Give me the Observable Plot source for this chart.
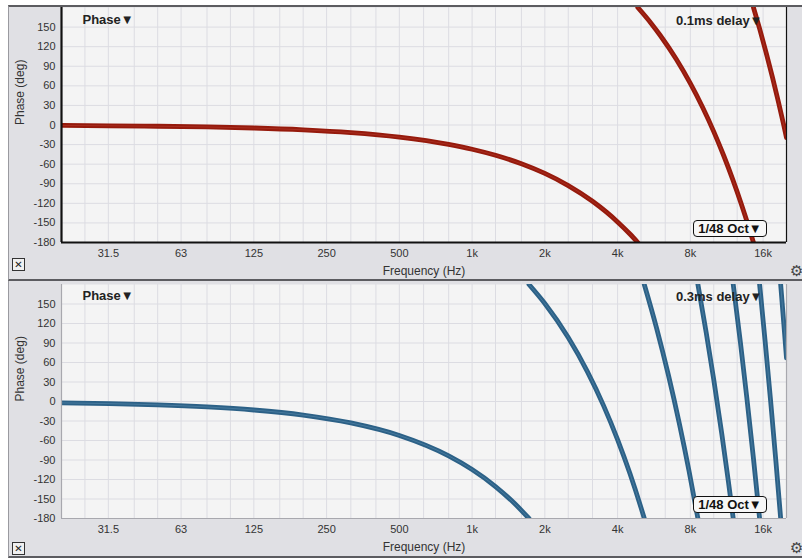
<!DOCTYPE html>
<html>
<head>
<meta charset="utf-8">
<script src="https://cdn.jsdelivr.net/npm/d3@7"></script>
<script src="https://cdn.jsdelivr.net/npm/@observablehq/plot@0.6"></script>
<style>
  body { margin:0; background:#fff; width:802px; height:559px; overflow:hidden; position:relative;
         font-family:"Liberation Sans", Arial, Helvetica, sans-serif; }
  .panel { position:absolute; left:8px; width:794px; background:#e0e0e4; box-sizing:border-box;
           border-left:1px solid #9a9aa0; }
  #bg1 { top:5px; height:276px; border-top:2px solid #5c5c60; border-bottom:2px solid #5c5c60; }
  #bg2 { top:281px; height:277px; border-bottom:2px solid #5c5c60; }
  .chart { position:absolute; left:0; }
  #c1 { top:0; }
  #c2 { top:277px; }
  .oct { position:absolute; left:693px; width:72px; height:15px; border:1.5px solid #111; border-radius:4px;
         background:#f7f7f7; font:bold 13px "Liberation Sans", Arial, sans-serif; color:#111;
         text-align:center; line-height:15px; white-space:nowrap; }
  .close { position:absolute; left:12px; width:11px; height:11px; border:1.3px solid #333; background:#f0f0f0;
           font:bold 10px "DejaVu Sans", sans-serif; color:#222; text-align:center; line-height:11px; }
  .gear { position:absolute; left:790px; font:15px "DejaVu Sans", sans-serif; color:#444; line-height:15px; }
</style>
</head>
<body>
<div class="panel" id="bg1"></div>
<div class="panel" id="bg2"></div>
<div class="chart" id="c1"></div>
<div class="chart" id="c2"></div>
<div class="oct" style="top:220px">1/48 Oct▼</div>
<div class="oct" style="top:496px">1/48 Oct▼</div>
<div class="close" style="top:258px">✕</div>
<div class="close" style="top:542px">✕</div>
<div class="gear" style="top:264px">⚙</div>
<div class="gear" style="top:541px">⚙</div>
<script>
// ---- axis values ----
const tickFreqs  = [31.25, 62.5, 125, 250, 500, 1000, 2000, 4000, 8000, 16000];
const tickLabels = ["31.5", "63", "125", "250", "500", "1k", "2k", "4k", "8k", "16k"];
const gridFreqs  = [25, 31.25, 40, 50, 62.5, 80, 100, 125, 160, 200, 250, 315, 400, 500, 630, 800,
                    1000, 1250, 1600, 2000, 2500, 3150, 4000, 5000, 6300, 8000, 10000, 12500, 16000];
const phaseTicks = [-180, -150, -120, -90, -60, -30, 0, 30, 60, 90, 120, 150];

// ---- panel 1: 0.1 ms delay (wrapped phase) ----
const p1Freq  = [20, 31.5, 50, 80, 125, 200, 315, 500, 800, 1000, 1250, 1600, 2000, 2500, 3150, 3600, 4000, 4500, 4850,
                 4850, 5500, 6000, 7000, 8000, 9000, 10000, 11000, 12000, 13000, 14000, 14600,
                 14600, 15500, 16500, 17500, 18500, 19500, 20000];
const p1Phase = [-0.7, -1.2, -1.9, -3.0, -4.6, -7.4, -11.7, -18.6, -29.7, -37.1, -46.4, -59.4, -74.2, -92.8, -116.9, -133.6, -148.5, -167.0, -180,
                 180, 156.0, 137.5, 100.6, 63.7, 26.8, -10.1, -47.1, -84.0, -120.9, -157.8, -180,
                 180, 146.8, 109.9, 72.9, 36.0, -0.9, -19.4];
const p1Seg   = [1,1,1,1,1,1,1,1,1,1,1,1,1,1,1,1,1,1,1,
                 2,2,2,2,2,2,2,2,2,2,2,2,
                 3,3,3,3,3,3,3];

// ---- panel 2: 0.3 ms delay ----
const p2Freq  = [20, 31.5, 50, 80, 125, 200, 315, 500, 800, 1000, 1250, 1500, 1720,
                 1720, 2000, 2500, 3000, 3500, 4000, 4500, 5000, 5160,
                 5160, 5800, 6500, 7200, 7900, 8600,
                 8600, 9300, 10000, 10800, 11500, 12040,
                 12040, 12900, 13700, 14600, 15480,
                 15480, 16300, 17200, 18100, 18920,
                 18920, 19500, 20000];
const p2Phase = [-2.1, -3.3, -5.2, -8.4, -13.1, -20.9, -33.0, -52.3, -83.7, -104.7, -130.8, -157.0, -180,
                 180, 150.7, 98.4, 46.0, -6.3, -58.6, -110.9, -163.3, -180,
                 180, 113.0, 39.8, -33.5, -106.7, -180,
                 180, 106.7, 33.5, -50.2, -123.5, -180,
                 180, 90.0, 6.3, -87.9, -180,
                 180, 94.2, 0.0, -94.2, -180,
                 180, 119.3, 67.0];
const p2Seg   = [1,1,1,1,1,1,1,1,1,1,1,1,1,
                 2,2,2,2,2,2,2,2,2,
                 3,3,3,3,3,3,
                 4,4,4,4,4,4,
                 5,5,5,5,5,
                 6,6,6,6,6,
                 7,7,7];

const labelMap = new Map(tickFreqs.map((f, i) => [f, tickLabels[i]]));

function panel({freq, phase, seg, color, hilite, delayText, frameColor, frameWidth, height, marginBottom, titleDy}) {
  const data = freq.map((f, i) => ({f, p: phase[i], s: seg[i]}));
  return Plot.plot({
    width: 802, height, marginLeft: 61, marginRight: 16, marginTop: 7, marginBottom,
    style: {background: "transparent", fontFamily: "'Liberation Sans', Arial, sans-serif", fontSize: "11px", color: "#333"},
    x: {type: "log", domain: [20, 20000], axis: null},
    y: {domain: [-180, 180], axis: null},
    marks: [
      Plot.frame({fill: "#f4f4f4"}),
      Plot.ruleX(gridFreqs, {stroke: "#dcdce2", strokeWidth: 1}),
      Plot.ruleY(phaseTicks, {stroke: "#dcdce2", strokeWidth: 1}),
      Plot.line(data, {x: "f", y: "p", z: "s", stroke: color, strokeWidth: 4.8, curve: "monotone-x", clip: true}),
      Plot.line(data, {x: "f", y: "p", z: "s", stroke: hilite, strokeWidth: 1, strokeOpacity: 0.4, curve: "monotone-x", clip: true}),
      Plot.ruleX([20], {stroke: frameColor, strokeWidth: frameWidth}),
      Plot.ruleX([20000], {stroke: frameColor, strokeWidth: 1.2}),
      Plot.ruleY([-180], {stroke: frameColor, strokeWidth: frameWidth}),
      Plot.text(tickFreqs, {x: d => d, text: d => labelMap.get(d), frameAnchor: "bottom", dy: 14, fontSize: 11, fill: "#333"}),
      Plot.text(phaseTicks, {y: d => d, text: d => String(d), frameAnchor: "left", dx: -6, textAnchor: "end", fontSize: 11, fill: "#333"}),
      Plot.text(["Frequency (Hz)"], {text: d => d, frameAnchor: "bottom", dy: 32, fontSize: 12, fill: "#333"}),
      Plot.text(["Phase (deg)"], {text: d => d, frameAnchor: "left", dx: -41, rotate: -90, fontSize: 12, fill: "#333"}),
      Plot.text(["Phase▼"], {text: d => d, frameAnchor: "top-left", dx: 21, dy: titleDy, textAnchor: "start", fontWeight: "bold", fontSize: 13, fill: "#222"}),
      Plot.text([delayText], {text: d => d, frameAnchor: "top-right", dx: -24, dy: titleDy + 1, textAnchor: "end", fontWeight: "bold", fontSize: 13, fill: "#222"})
    ]
  });
}

document.getElementById("c1").append(panel({
  freq: p1Freq, phase: p1Phase, seg: p1Seg, color: "#961a0c", hilite: "#c0493c",
  delayText: "0.1ms delay▼", frameColor: "#111", frameWidth: 2.2, height: 281, marginBottom: 39, titleDy: 7
}));
document.getElementById("c2").append(panel({
  freq: p2Freq, phase: p2Phase, seg: p2Seg, color: "#2c6187", hilite: "#6d9dbd",
  delayText: "0.3ms delay▼", frameColor: "#a8a8ae", frameWidth: 1.2, height: 282, marginBottom: 41, titleDy: 6
}));
</script>
</body>
</html>
